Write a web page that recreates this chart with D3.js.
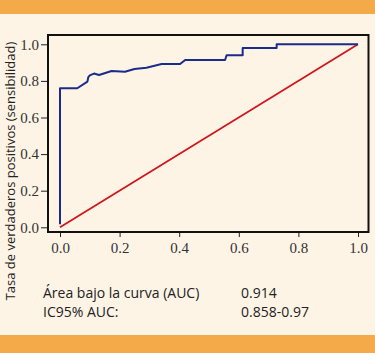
<!DOCTYPE html>
<html>
<head>
<meta charset="utf-8">
<script src="https://cdn.jsdelivr.net/npm/d3@7"></script>
<style>
  body { margin: 0; background: #fdf4e6; }
  .axis text { font-family: "Liberation Serif", serif; font-size: 15px; fill: #333; }
  .axis line { stroke: #222; stroke-width: 1; }
  .lbl { font-family: "Open Sans", sans-serif; font-size: 13px; fill: #222; }
  .stat { font-size: 14px; }
</style>
</head>
<body>
<div id="chart"></div>
<script>
// ROC curve points (1 - especificidad, sensibilidad)
var fpr = [0, 0, 0.058, 0.092, 0.095, 0.10, 0.114, 0.131, 0.173, 0.218, 0.25, 0.29, 0.341, 0.403, 0.42, 0.554, 0.559, 0.613, 0.613, 0.727, 0.727, 1.0];
var tpr = [0.016, 0.76, 0.76, 0.796, 0.82, 0.83, 0.84, 0.832, 0.854, 0.85, 0.865, 0.872, 0.892, 0.892, 0.914, 0.914, 0.94, 0.94, 0.98, 0.98, 1.0, 1.0];
var refLine = [0, 1];
var xTicks = [0, 0.2, 0.4, 0.6, 0.8, 1.0];
var yTicks = [0, 0.2, 0.4, 0.6, 0.8, 1.0];
var yTitle = "Tasa de verdaderos positivos (sensibilidad)";
var statLabels = ["Área bajo la curva (AUC)", "IC95% AUC:"];
var statValues = ["0.914", "0.858-0.97"];

var W = 375, H = 353;

var svg = d3.select("#chart").append("svg")
    .attr("width", W)
    .attr("height", H);

svg.append("rect").attr("width", W).attr("height", H).attr("fill", "#fdf4e6");
// orange bands
svg.append("rect").attr("x", 0).attr("y", 0).attr("width", W).attr("height", 14).attr("fill", "#f4aa48");
svg.append("rect").attr("x", 0).attr("y", 335).attr("width", W).attr("height", H - 335).attr("fill", "#f4aa48");

var x = d3.scaleLinear().domain([0, 1]).range([60, 358]);
var y = d3.scaleLinear().domain([0, 1]).range([227.3, 44.3]);

var frame = { left: 48, right: 368.5, top: 35, bottom: 232 };

// axes
var xAxis = d3.axisBottom(x).tickValues(xTicks).tickFormat(d3.format(".1f")).tickSizeOuter(0).tickSize(5).tickPadding(5);
var yAxis = d3.axisLeft(y).tickValues(yTicks).tickFormat(d3.format(".1f")).tickSizeOuter(0).tickSize(7).tickPadding(2);

var gx = svg.append("g").attr("class", "axis")
    .attr("transform", "translate(0," + frame.bottom + ")")
    .call(xAxis);
gx.select(".domain").remove();

var gy = svg.append("g").attr("class", "axis")
    .attr("transform", "translate(" + frame.left + ",0)")
    .call(yAxis);
gy.select(".domain").remove();

// curves
var line = d3.line()
    .x(function(d) { return x(d[0]); })
    .y(function(d) { return y(d[1]); });

svg.append("path")
    .datum(refLine.map(function(v) { return [v, v]; }))
    .attr("d", line)
    .attr("fill", "none")
    .attr("stroke", "#d0171d")
    .attr("stroke-width", 1.8);

svg.append("path")
    .datum(fpr.map(function(v, i) { return [v, tpr[i]]; }))
    .attr("d", line)
    .attr("fill", "none")
    .attr("stroke", "#1c2a8c")
    .attr("stroke-width", 2)
    .attr("stroke-linejoin", "round");

// frame
svg.append("rect")
    .attr("x", frame.left)
    .attr("y", frame.top)
    .attr("width", frame.right - frame.left)
    .attr("height", frame.bottom - frame.top)
    .attr("fill", "none")
    .attr("stroke", "#111")
    .attr("stroke-width", 2);

// y title
svg.append("text")
    .attr("class", "lbl")
    .attr("transform", "translate(15,171) rotate(-90)")
    .attr("text-anchor", "middle")
    .text(yTitle);

// AUC stats
statLabels.forEach(function(t, i) {
    svg.append("text").attr("class", "lbl stat")
        .attr("x", 43).attr("y", 298 + i * 18.5).text(t);
    svg.append("text").attr("class", "lbl stat")
        .attr("x", 241).attr("y", 298 + i * 18.5).text(statValues[i]);
});
</script>
</body>
</html>
